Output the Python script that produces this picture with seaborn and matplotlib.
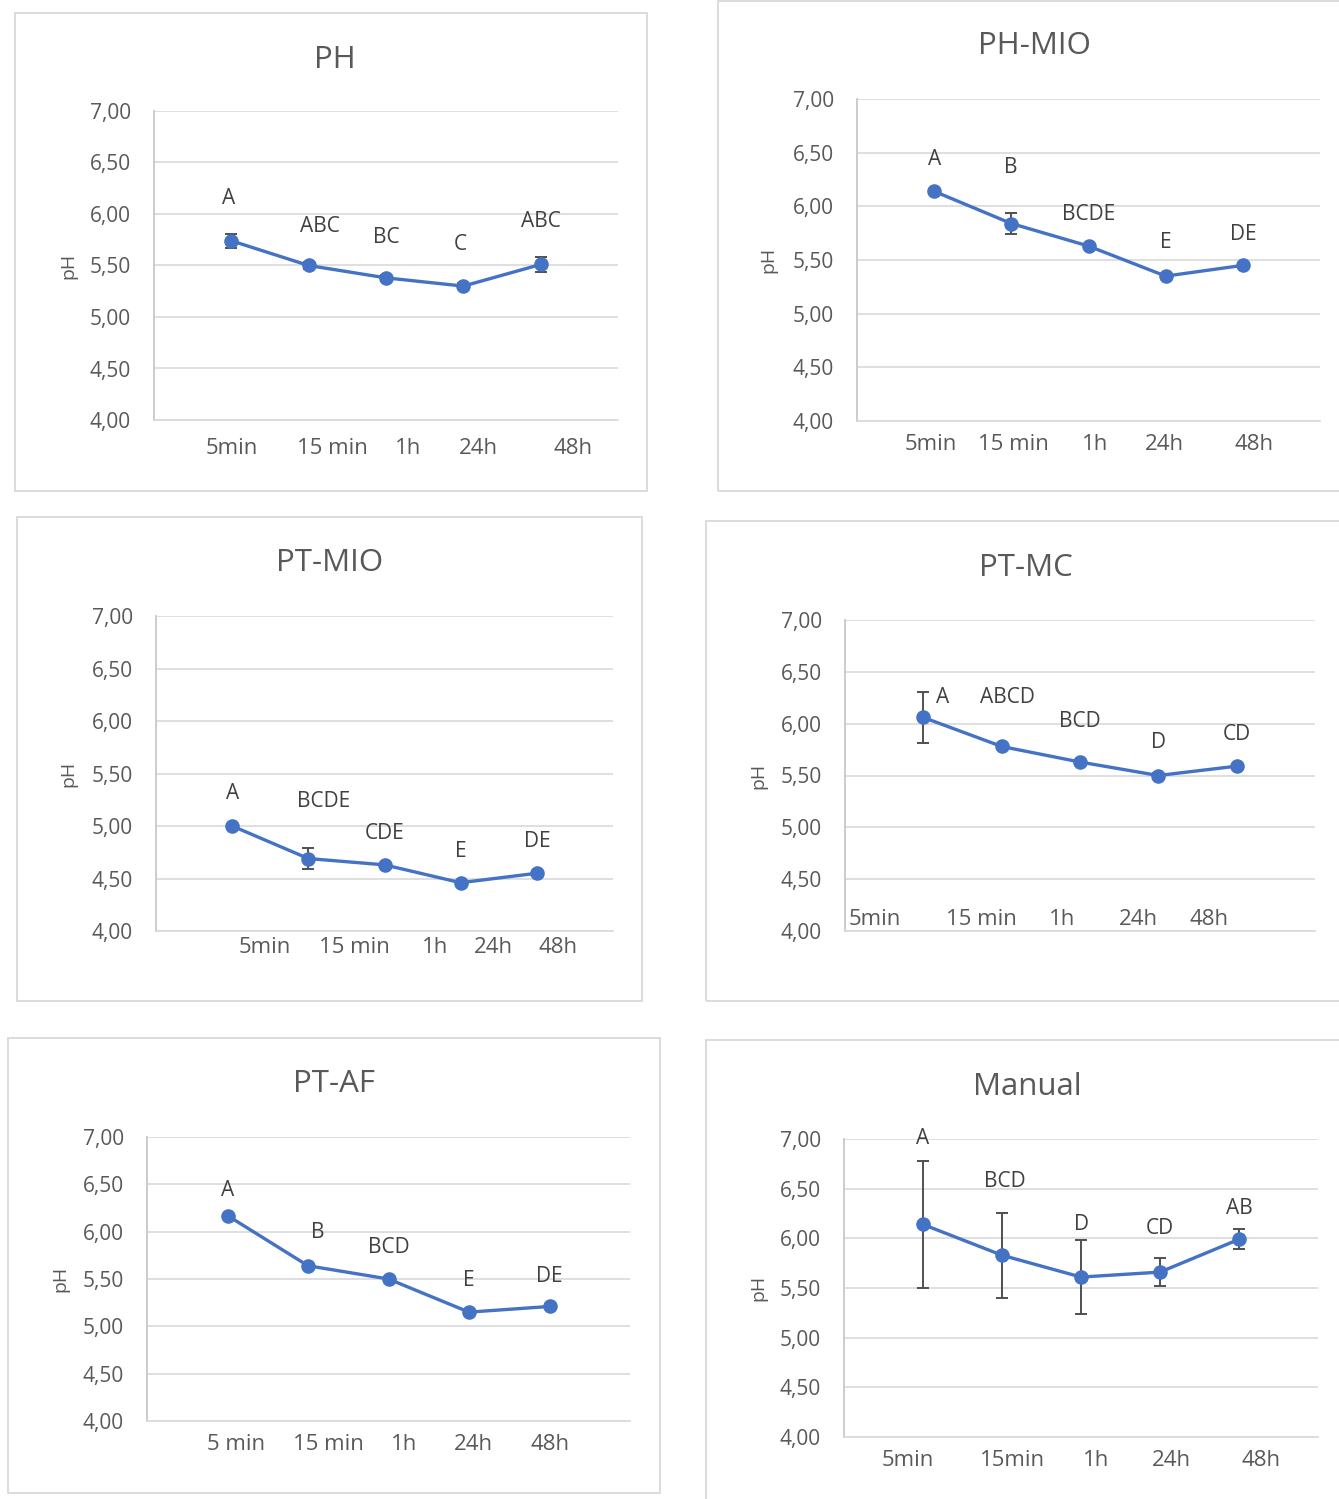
import matplotlib
matplotlib.use("Agg")
import matplotlib.pyplot as plt
import seaborn as sns
import pandas as pd
import numpy as np
from matplotlib.patches import Rectangle

# ---------------- data ----------------
ph_labels = ["5min", "15 min", "1h", "24h", "48h"]
ph_mean = [5.74, 5.50, 5.38, 5.30, 5.51]
ph_err = [0.07, 0.03, 0.03, 0.03, 0.07]
ph_letters = ["A", "ABC", "BC", "C", "ABC"]

phmio_labels = ["5min", "15 min", "1h", "24h", "48h"]
phmio_mean = [6.14, 5.84, 5.63, 5.35, 5.45]
phmio_err = [0.02, 0.10, 0.02, 0.02, 0.02]
phmio_letters = ["A", "B", "BCDE", "E", "DE"]

ptmio_labels = ["5min", "15 min", "1h", "24h", "48h"]
ptmio_mean = [5.00, 4.69, 4.63, 4.46, 4.55]
ptmio_err = [0.02, 0.10, 0.02, 0.02, 0.02]
ptmio_letters = ["A", "BCDE", "CDE", "E", "DE"]

ptmc_labels = ["5min", "15 min", "1h", "24h", "48h"]
ptmc_mean = [6.06, 5.78, 5.63, 5.50, 5.59]
ptmc_err = [0.25, 0.02, 0.02, 0.02, 0.02]
ptmc_letters = ["A", "ABCD", "BCD", "D", "CD"]

ptaf_labels = ["5 min", "15 min", "1h", "24h", "48h"]
ptaf_mean = [6.17, 5.64, 5.50, 5.15, 5.21]
ptaf_err = [0.02, 0.02, 0.02, 0.02, 0.02]
ptaf_letters = ["A", "B", "BCD", "E", "DE"]

manual_labels = ["5min", "15min", "1h", "24h", "48h"]
manual_mean = [6.14, 5.83, 5.61, 5.66, 5.99]
manual_err = [0.64, 0.43, 0.37, 0.14, 0.10]
manual_letters = ["A", "BCD", "D", "CD", "AB"]

y_ticks = [4.0, 4.5, 5.0, 5.5, 6.0, 6.5, 7.0]

# ---------------- layout (pixels) ----------------
panels = [
    dict(title="PH", mean=ph_mean, err=ph_err, letters=ph_letters, labels=ph_labels,
         frame=(15, 13, 647, 491), axes=(154, 111, 618, 420), title_xy=(335, 58), ylab_x=68,
         tick_x=[0.0, 1.31, 2.28, 3.19, 4.42], tick_off=27,
         letter_xy=[(-0.04, 6.155), (1.15, 5.874), (2.0, 5.767), (2.96, 5.70), (4.0, 5.93)]),
    dict(title="PH-MIO", mean=phmio_mean, err=phmio_err, letters=phmio_letters, labels=phmio_labels,
         frame=(718, 1, 1345, 491), axes=(857, 99, 1320, 421), title_xy=(1034, 44), ylab_x=768,
         tick_x=[-0.04, 1.03, 2.08, 2.98, 4.14], tick_off=23,
         letter_xy=[(0.0, 6.44), (0.99, 6.36), (2.0, 5.92), (3.0, 5.66), (4.0, 5.74)]),
    dict(title="PT-MIO", mean=ptmio_mean, err=ptmio_err, letters=ptmio_letters, labels=ptmio_labels,
         frame=(17, 517, 642, 1001), axes=(156, 616, 613, 931), title_xy=(330, 561), ylab_x=68,
         tick_x=[0.43, 1.6, 2.67, 3.43, 4.28], tick_off=15,
         letter_xy=[(0.0, 5.305), (1.2, 5.238), (2.0, 4.933), (3.0, 4.76), (4.0, 4.848)]),
    dict(title="PT-MC", mean=ptmc_mean, err=ptmc_err, letters=ptmc_letters, labels=ptmc_labels,
         frame=(706, 521, 1345, 1001), axes=(845, 620, 1315, 931), title_xy=(1026, 566), ylab_x=758,
         tick_x=[-0.625, 0.74, 1.77, 2.74, 3.65], tick_off=-13,
         letter_xy=[(0.25, 6.25), (1.08, 6.25), (2.0, 6.02), (3.0, 5.815), (4.0, 5.90)]),
    dict(title="PT-AF", mean=ptaf_mean, err=ptaf_err, letters=ptaf_letters, labels=ptaf_labels,
         frame=(8, 1038, 660, 1493), axes=(147, 1137, 630, 1421), title_xy=(334, 1082), ylab_x=60,
         tick_x=[0.11, 1.255, 2.19, 3.06, 4.01], tick_off=23,
         letter_xy=[(0.0, 6.43), (1.12, 5.996), (2.0, 5.83), (3.0, 5.48), (4.0, 5.53)]),
    dict(title="Manual", mean=manual_mean, err=manual_err, letters=manual_letters, labels=manual_labels,
         frame=(706, 1040, 1345, 1505), axes=(844, 1139, 1318, 1437), title_xy=(1027, 1085), ylab_x=758,
         tick_x=[-0.19, 1.13, 2.19, 3.15, 4.28], tick_off=22,
         letter_xy=[(0.0, 7.0), (1.04, 6.577), (2.0, 6.144), (3.0, 6.094), (4.01, 6.305)]),
]

BLUE = "#4472C4"
TXT = "#595959"
DARK = "#404040"
GRID = "#D9D9D9"

sns.set_style("white")
plt.rcParams['font.family'] = ['Open Sans', 'DejaVu Sans']

W, H = 1339, 1499
fig = plt.figure(figsize=(W / 100, H / 100), dpi=100)


def fig_box(l, t, r, b):
    return [l / W, 1 - b / H, (r - l) / W, (b - t) / H]


for p in panels:
    fl, ft, fr, fb = p["frame"]
    fig.patches.append(Rectangle((fl / W, 1 - fb / H), (fr - fl) / W, (fb - ft) / H,
                                 transform=fig.transFigure, fill=False,
                                 edgecolor=GRID, linewidth=1.3))
    l, t, r, b = p["axes"]
    ax = fig.add_axes(fig_box(l, t, r, b))
    ax.set_facecolor("none")
    df = pd.DataFrame({"t": np.arange(len(p["mean"])), "pH": p["mean"], "err": p["err"]})
    ax.errorbar(df["t"], df["pH"], yerr=df["err"], fmt="none", ecolor="#505050",
                elinewidth=1.4, capsize=4.5, capthick=1.4, zorder=2)
    sns.lineplot(data=df, x="t", y="pH", ax=ax, color=BLUE, linewidth=2.4,
                 marker="o", markersize=10.5, markeredgewidth=0, zorder=3)
    ax.set_xlim(-1, 5)
    ax.set_ylim(4, 7)
    ax.set_yticks(y_ticks)
    ax.set_yticklabels([f"{v:.2f}".replace(".", ",") for v in y_ticks])
    ax.yaxis.grid(True, color=GRID, linewidth=1.2)
    ax.xaxis.grid(False)
    for s in ["top", "right"]:
        ax.spines[s].set_visible(False)
    ax.spines["left"].set_color("#C8C8C8")
    ax.spines["bottom"].set_color(GRID)
    ax.spines["left"].set_linewidth(1.3)
    ax.spines["bottom"].set_linewidth(1.2)
    ax.set_xticks(p["tick_x"])
    ax.set_xticklabels(p["labels"])
    ax.tick_params(axis="y", length=0, pad=16.5, labelsize=15, labelcolor=TXT)
    ax.tick_params(axis="x", length=0, pad=(p["tick_off"] - 9.5) * 0.72,
                   labelsize=16, labelcolor=TXT)
    ax.set_xlabel("")
    ax.set_ylabel("pH", fontsize=14, color=TXT)
    ax.yaxis.label.set_verticalalignment("center")
    ax.yaxis.set_label_coords((p["ylab_x"] - l) / (r - l), 0.5)
    for (lx, ly), s in zip(p["letter_xy"], p["letters"]):
        ax.text(lx, ly, s, ha="center", va="center", fontsize=15, color=DARK)
    tx, ty = p["title_xy"]
    fig.text(tx / W, 1 - (ty + 2) / H, p["title"], ha="center", va="center",
             fontsize=22.5, color=TXT)

fig.savefig("out.png", dpi=100, facecolor="white")
